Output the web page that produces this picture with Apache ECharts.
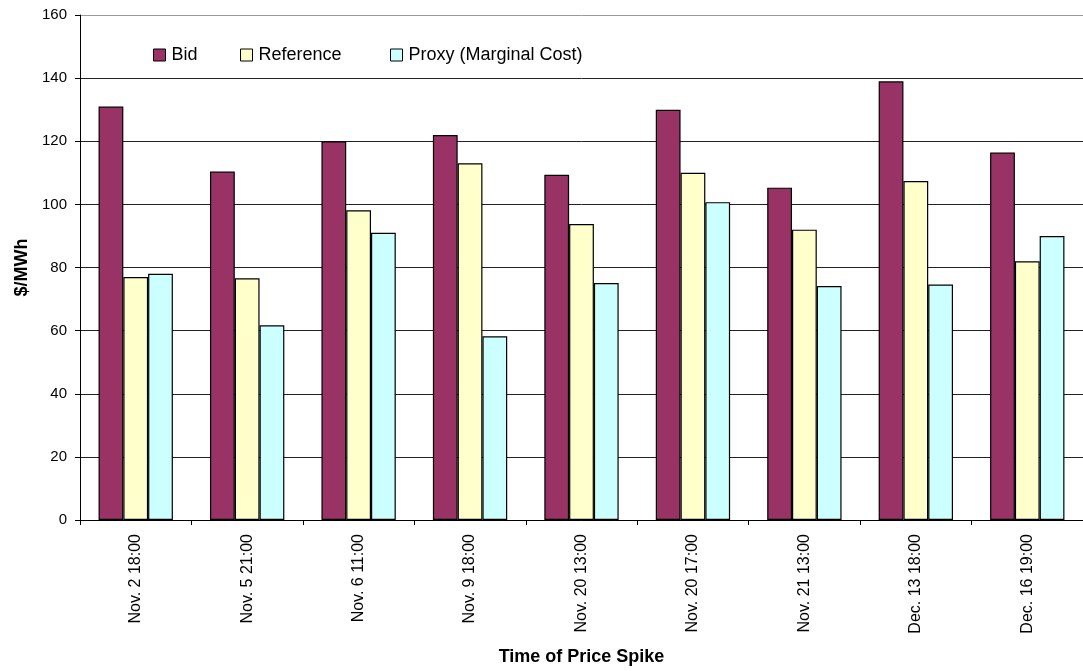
<!DOCTYPE html>
<html>
<head>
<meta charset="utf-8">
<script src="https://cdn.jsdelivr.net/npm/echarts@6/dist/echarts.min.js"></script>
<style>
  html, body { margin: 0; padding: 0; background: #fff; overflow: hidden; }
  #chart { width: 1083px; height: 671px; }
</style>
</head>
<body>
<div id="chart"></div>
<script>
// Price spike events
const categories = ['Nov. 2 18:00', 'Nov. 5 21:00', 'Nov. 6 11:00', 'Nov. 9 18:00', 'Nov. 20 13:00',
                    'Nov. 20 17:00', 'Nov. 21 13:00', 'Dec. 13 18:00', 'Dec. 16 19:00'];
// $/MWh
const bid       = [131, 110.4, 120, 122, 109.4, 130, 105.3, 139, 116.4];
const reference = [77, 76.6, 98.1, 113, 93.8, 110, 92, 107.4, 82];
const proxy     = [78, 61.7, 91, 58.2, 75.1, 100.7, 74.1, 74.6, 90];

const FONT = '"Liberation Sans", Arial, sans-serif';
const chart = echarts.init(document.getElementById('chart'), null, { renderer: 'canvas' });

function barSeries(name, data, color) {
  return {
    name: name,
    type: 'bar',
    data: data,
    barGap: '0%',
    barCategoryGap: '33.3%',
    itemStyle: { color: color, borderColor: '#000', borderWidth: 1.2 }
  };
}

function legendAt(name, left) {
  return {
    data: [name],
    left: left,
    top: 46,
    icon: 'rect',
    itemWidth: 12,
    itemHeight: 12,
    itemGap: 0,
    padding: 0,
    itemStyle: { borderColor: '#000', borderWidth: 1 },
    textStyle: { fontFamily: FONT, fontSize: 18, color: '#000', padding: [0, 0, 0, 1] }
  };
}

chart.setOption({
  animation: false,
  backgroundColor: '#fff',
  textStyle: { fontFamily: FONT },
  grid: { left: 80, top: 15, right: -10, height: 512, containLabel: false },
  legend: [legendAt('Bid', 153), legendAt('Reference', 240), legendAt('Proxy (Marginal Cost)', 390)],
  xAxis: {
    type: 'category',
    data: categories,
    name: 'Time of Price Spike',
    nameLocation: 'middle',
    nameGap: 128,
    nameTextStyle: { fontFamily: FONT, fontSize: 18, fontWeight: 'bold', color: '#000' },
    axisLine: { lineStyle: { color: '#000', width: 1 } },
    axisTick: { show: true, length: 5, alignWithLabel: false, lineStyle: { color: '#000' } },
    axisLabel: { rotate: 90, margin: 14, fontFamily: FONT, fontSize: 16, color: '#000', interval: 0 },
    splitLine: { show: false }
  },
  yAxis: {
    type: 'value',
    min: 0,
    max: 160,
    interval: 20,
    name: '$/MWh',
    nameLocation: 'middle',
    nameGap: 47,
    nameRotate: 90,
    nameTextStyle: { fontFamily: FONT, fontSize: 18, fontWeight: 'bold', color: '#000' },
    axisLine: { show: true, lineStyle: { color: '#000', width: 1 } },
    axisTick: { show: true, length: 5, lineStyle: { color: '#000' } },
    axisLabel: { margin: 13, fontFamily: FONT, fontSize: 15, color: '#000' },
    splitLine: {
      show: true,
      lineStyle: { color: ['#222', '#222', '#222', '#222', '#222', '#222', '#222', '#222', '#999'], width: 1 }
    }
  },
  series: [
    barSeries('Bid', bid, '#993366'),
    barSeries('Reference', reference, '#FFFFCC'),
    barSeries('Proxy (Marginal Cost)', proxy, '#CCFFFF')
  ]
});
</script>
</body>
</html>
